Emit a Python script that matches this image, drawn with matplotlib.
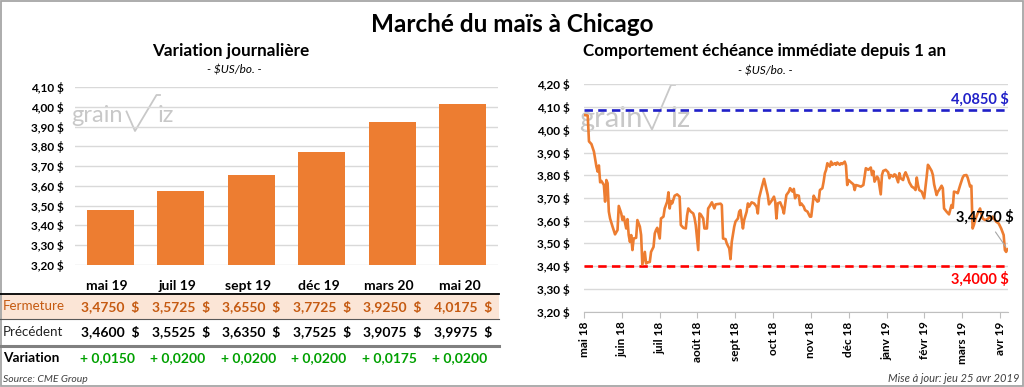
import numpy as np
import matplotlib
matplotlib.use("Agg")
import matplotlib.pyplot as plt
from matplotlib.patches import Rectangle
from matplotlib.lines import Line2D
from matplotlib.ticker import FuncFormatter

plt.rcParams['font.family'] = ['Lato', 'DejaVu Sans']

# ---------------- data ----------------
contracts = ["mai 19", "juil 19", "sept 19", "déc 19", "mars 20", "mai 20"]
close = [3.4750, 3.5725, 3.6550, 3.7725, 3.9250, 4.0175]
previous = [3.4600, 3.5525, 3.6350, 3.7525, 3.9075, 3.9975]
variation = [0.0150, 0.0200, 0.0200, 0.0200, 0.0175, 0.0200]

month_labels = ["mai 18", "juin 18", "juil 18", "août 18", "sept 18", "oct 18",
                "nov 18", "déc 18", "janv 19", "févr 19", "mars 19", "avr 19"]

# day offset from the start of the one-year window (axis spaced evenly by month)
obs_day = [0, 3, 4, 6, 8, 10, 11, 12, 13, 14,
           16, 17, 18, 19, 20, 21, 23, 25, 27, 28,
           30, 31, 32, 34, 35, 36, 37, 38, 39, 40,
           42, 43, 45, 46, 47, 49, 50, 51, 53, 54,
           56, 57, 58, 59, 61, 62, 64, 65, 67, 68,
           69, 70, 71, 73, 75, 77, 78, 80, 82, 83,
           84, 86, 88, 89, 90, 92, 93, 94, 96, 97,
           99, 100, 101, 103, 105, 106, 110, 111, 112, 114,
           115, 117, 118, 119, 121, 122, 124, 125, 126, 128,
           129, 131, 132, 133, 135, 137, 139, 140, 141, 143,
           145, 146, 148, 149, 151, 153, 154, 155, 156, 158,
           160, 161, 163, 165, 166, 168, 169, 170, 171, 173,
           174, 175, 177, 178, 180, 182, 183, 185, 186, 188,
           189, 190, 192, 193, 194, 195, 196, 198, 199, 200,
           202, 203, 204, 206, 207, 208, 210, 211, 212, 213,
           215, 217, 218, 219, 221, 223, 225, 227, 229, 231,
           232, 233, 234, 236, 237, 239, 240, 241, 243, 245,
           246, 247, 249, 250, 251, 253, 254, 255, 257, 258,
           259, 261, 262, 264, 266, 267, 268, 269, 270, 272,
           273, 274, 276, 277, 278, 280, 281, 282, 284, 285,
           286, 288, 289, 290, 292, 294, 296, 297, 298, 300,
           301, 303, 305, 306, 308, 309, 311, 312, 313, 314,
           315, 316, 317, 319, 320, 321, 323, 325, 327, 328,
           329, 331, 332, 334, 336, 338, 339, 340, 341]
obs_price = [4.065, 4.063, 3.949, 3.937, 3.904, 3.838, 3.816, 3.843, 3.769, 3.775,
             3.757, 3.684, 3.779, 3.765, 3.640, 3.610, 3.574, 3.540, 3.559, 3.665,
             3.632, 3.603, 3.618, 3.566, 3.607, 3.537, 3.507, 3.537, 3.471, 3.522,
             3.525, 3.603, 3.574, 3.537, 3.407, 3.463, 3.412, 3.416, 3.419, 3.463,
             3.485, 3.544, 3.559, 3.569, 3.522, 3.610, 3.618, 3.654, 3.684, 3.725,
             3.654, 3.687, 3.676, 3.710, 3.716, 3.706, 3.581, 3.569, 3.566, 3.622,
             3.654, 3.640, 3.632, 3.613, 3.581, 3.471, 3.632, 3.628, 3.610, 3.566,
             3.566, 3.654, 3.662, 3.681, 3.654, 3.672, 3.675, 3.669, 3.522, 3.519,
             3.500, 3.478, 3.431, 3.507, 3.574, 3.596, 3.610, 3.640, 3.647, 3.566,
             3.603, 3.640, 3.676, 3.662, 3.681, 3.676, 3.662, 3.632, 3.699, 3.743,
             3.784, 3.760, 3.713, 3.672, 3.687, 3.706, 3.684, 3.610, 3.676, 3.681,
             3.654, 3.632, 3.713, 3.728, 3.743, 3.728, 3.740, 3.699, 3.713, 3.710,
             3.669, 3.676, 3.662, 3.647, 3.640, 3.618, 3.618, 3.710, 3.699, 3.684,
             3.687, 3.735, 3.743, 3.772, 3.809, 3.824, 3.853, 3.838, 3.860, 3.846,
             3.853, 3.846, 3.856, 3.846, 3.853, 3.849, 3.860, 3.843, 3.757, 3.779,
             3.769, 3.760, 3.735, 3.757, 3.754, 3.750, 3.757, 3.831, 3.824, 3.834,
             3.801, 3.819, 3.772, 3.794, 3.787, 3.716, 3.801, 3.819, 3.824, 3.813,
             3.787, 3.801, 3.794, 3.804, 3.801, 3.769, 3.809, 3.787, 3.779, 3.801,
             3.813, 3.787, 3.769, 3.750, 3.743, 3.735, 3.790, 3.757, 3.735, 3.728,
             3.713, 3.699, 3.794, 3.846, 3.838, 3.819, 3.801, 3.760, 3.713, 3.728,
             3.735, 3.754, 3.743, 3.654, 3.640, 3.628, 3.669, 3.657, 3.728, 3.725,
             3.721, 3.757, 3.790, 3.799, 3.801, 3.790, 3.750, 3.754, 3.566, 3.581,
             3.603, 3.618, 3.632, 3.654, 3.632, 3.610, 3.603, 3.607, 3.618, 3.607,
             3.618, 3.603, 3.596, 3.588, 3.566, 3.537, 3.471, 3.463, 3.475]
year_high = 4.0850
year_low = 3.4000
last_price = 3.4750

# ---------------- style ----------------
W, H = 1024, 387
ORANGE = '#ed7d31'
GRID = '#d9d9d9'
DARK_OR = '#c55a11'
GREEN = '#00a000'
BLUE = '#2020c8'
RED = '#ff0000'
WM = '#c8c8c8'


def fx(x):
    return x / W


def fy(y):
    return 1 - y / H


def money(v, _=None):
    return f"{v:.2f}".replace('.', ',') + " $"


def fmt4(v):
    return f"{v:.4f}".replace('.', ',')


fig = plt.figure(figsize=(W / 100, H / 100), dpi=100)
fig.patch.set_facecolor('white')
fig.add_artist(Rectangle((0.0008, 0.0015), 0.9984, 0.997, transform=fig.transFigure,
                         fill=False, ec='#a6a6a6', lw=1.3))

# titles
fig.text(0.5, fy(24), "Marché du maïs à Chicago", ha='center', va='center',
         fontsize=17.5, fontweight='bold')
fig.text(fx(231), fy(51), "Variation journalière", ha='center', va='center',
         fontsize=12.3, fontweight='bold')
fig.text(fx(234), fy(70), "- $US/bo. -", ha='center', va='center',
         fontsize=8.5, style='italic')
fig.text(fx(765), fy(51), "Comportement échéance immédiate depuis 1 an", ha='center',
         va='center', fontsize=12.2, fontweight='bold')
fig.text(fx(765), fy(71), "- $US/bo. -", ha='center', va='center',
         fontsize=8.5, style='italic')


def watermark(ax, gx, base, size, check, izx):
    ax.text(fx(gx), fy(base), "grain", transform=fig.transFigure, fontsize=size,
            color=WM, ha='left', va='baseline', zorder=0.5)
    ax.add_line(Line2D([fx(p[0]) for p in check], [fy(p[1]) for p in check],
                       transform=fig.transFigure, color=WM, lw=1.3, zorder=0.5))
    ax.text(fx(izx), fy(base), "iz", transform=fig.transFigure, fontsize=size,
            color=WM, ha='left', va='baseline', zorder=0.5)


# ---------------- left: bar chart ----------------
L1, R1, T1, B1 = 75, 498, 87.3, 264.7
ax1 = fig.add_axes([fx(L1), fy(B1), fx(R1 - L1), (B1 - T1) / H])
xpos = np.arange(len(contracts))
ax1.bar(xpos, close, width=0.66, color=ORANGE, zorder=2)
ax1.set_xlim(-0.5, len(contracts) - 0.5)
ax1.set_ylim(3.20, 4.10)
ax1.set_yticks(np.arange(3.20, 4.101, 0.10))
ax1.yaxis.set_major_formatter(FuncFormatter(money))
ax1.grid(axis='y', color=GRID, lw=1, zorder=0)
ax1.set_axisbelow(True)
ax1.set_xticks([])
for s in ax1.spines.values():
    s.set_visible(False)
ax1.tick_params(axis='y', length=0, pad=8, labelsize=8.5)
for lab in ax1.get_yticklabels():
    lab.set_fontweight('bold')
watermark(ax1, 71, 122, 17, [(126.5, 111.5), (135, 131), (156.5, 95), (160, 95)], 158)

# table under the bars
col_w = (R1 - L1) / len(contracts)
fig.add_artist(Rectangle((0, fy(318.5)), fx(499), (318.5 - 294) / H, transform=fig.transFigure,
                         fc='#fbe5d6', ec='none', zorder=0))
fig.add_artist(Line2D([0, fx(499)], [fy(294), fy(294)], color='black', lw=1.3))
fig.add_artist(Line2D([0, fx(499)], [fy(318.5), fy(318.5)], color='#595959', lw=0.8))
fig.add_artist(Line2D([0, fx(499)], [fy(345.5), fy(345.5)], color='#808080', lw=2.2))

fig.text(fx(3), fy(306.5), "Fermeture", ha='left', va='center', fontsize=9.6, color=DARK_OR)
fig.text(fx(3), fy(331.5), "Précédent", ha='left', va='center', fontsize=9.6, color='#222222')
fig.text(fx(3), fy(358.5), "Variation", ha='left', va='center', fontsize=9.8,
         fontweight='bold', color='black')
for i, name in enumerate(contracts):
    cx = L1 + (i + 0.5) * col_w
    fig.text(fx(cx - 3), fy(286), name, ha='center', va='center', fontsize=10, fontweight='bold')
    fig.text(fx(cx), fy(306.5), fmt4(close[i]) + "  $", ha='center', va='center',
             fontsize=10, fontweight='bold', color=DARK_OR)
    fig.text(fx(cx), fy(331.5), fmt4(previous[i]) + "  $", ha='center', va='center',
             fontsize=10, fontweight='bold', color='black')
    fig.text(fx(cx - 3), fy(358.5), "+ " + fmt4(variation[i]), ha='center', va='center',
             fontsize=10, fontweight='bold', color=GREEN)

fig.text(fx(3), fy(379), "Source: CME Group", ha='left', va='center', fontsize=7.5,
         style='italic', color='#404040')
fig.text(fx(1019), fy(378), "Mise à jour: jeu 25 avr 2019", ha='right', va='center',
         fontsize=8, style='italic', color='#404040')

# ---------------- right: line chart ----------------
L2, R2, T2, B2 = 584, 1008, 84.3, 311.7
ax2 = fig.add_axes([fx(L2), fy(B2), fx(R2 - L2), (B2 - T2) / H])
month_len = 30.47
ax2.plot(obs_day, obs_price, color=ORANGE, lw=1.9, zorder=3, solid_joinstyle='round')
ax2.axhline(year_high, color=BLUE, lw=1.9, ls=(0, (3.2, 2.0)), zorder=2)
ax2.axhline(year_low, color=RED, lw=1.9, ls=(0, (3.2, 2.0)), zorder=2)
ax2.set_xlim(0, 341.5)
ax2.set_ylim(3.20, 4.20)
ax2.set_yticks(np.arange(3.20, 4.201, 0.10))
ax2.yaxis.set_major_formatter(FuncFormatter(money))
ax2.set_xticks([i * month_len for i in range(len(month_labels))])
ax2.set_xticklabels(month_labels, rotation=90, fontweight='bold', fontsize=8.5)
ax2.grid(axis='y', color=GRID, lw=1, zorder=0)
ax2.set_axisbelow(True)
for k in ['top', 'right', 'left']:
    ax2.spines[k].set_visible(False)
ax2.spines['bottom'].set_color('#bfbfbf')
ax2.tick_params(axis='y', length=0, pad=10, labelsize=8.5)
ax2.tick_params(axis='x', length=4, color='#bfbfbf', pad=3)
for lab in ax2.get_yticklabels():
    lab.set_fontweight('bold')
watermark(ax2, 579, 127, 21, [(643, 112), (652, 129.5), (671, 85), (675, 85)], 670)

ax2.text(fx(1009), fy(99), fmt4(year_high) + " $", transform=fig.transFigure, ha='right',
         va='center', fontsize=10.5, fontweight='bold', color=BLUE)
ax2.text(fx(1009), fy(279), fmt4(year_low) + " $", transform=fig.transFigure, ha='right',
         va='center', fontsize=10.5, fontweight='bold', color=RED)
ax2.annotate(fmt4(last_price) + " $", xy=(obs_day[-1], obs_price[-1]),
             xytext=(fx(1014), fy(217)), textcoords=fig.transFigure,
             ha='right', va='center', fontsize=10.5, fontweight='bold', color='black',
             arrowprops=dict(arrowstyle='-', color='#a6a6a6', lw=0.8,
                             shrinkA=4, shrinkB=2))

fig.savefig("out.png", dpi=100, facecolor='white')
